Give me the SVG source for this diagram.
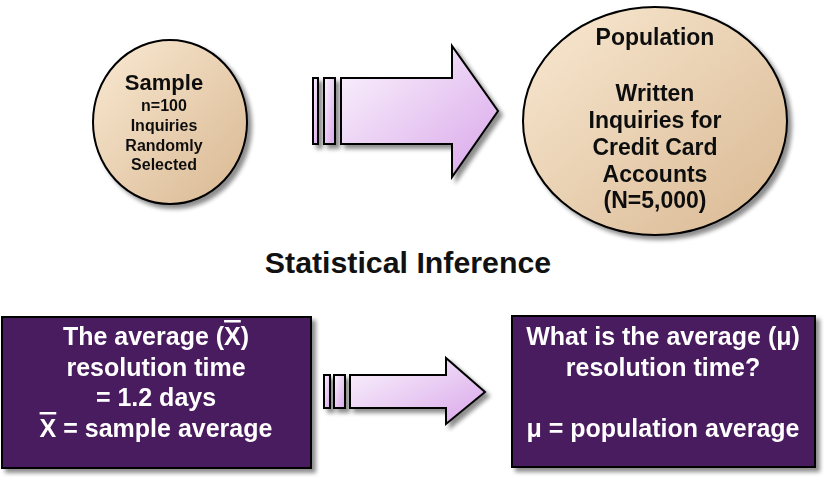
<svg xmlns="http://www.w3.org/2000/svg" width="827" height="477" viewBox="0 0 827 477">
<defs>
<linearGradient id="tan" x1="0" y1="0" x2="1" y2="1">
<stop offset="0" stop-color="#f9e9d2"/>
<stop offset="1" stop-color="#d9b892"/>
</linearGradient>
<linearGradient id="lav" x1="0" y1="0" x2="1" y2="1">
<stop offset="0" stop-color="#fbf6fd"/>
<stop offset="1" stop-color="#d9a6ea"/>
</linearGradient>
<filter id="sh" x="-10%" y="-10%" width="130%" height="130%">
<feGaussianBlur in="SourceAlpha" stdDeviation="2"/>
<feOffset dx="4" dy="4" result="b"/>
<feComponentTransfer><feFuncA type="linear" slope="0.45"/></feComponentTransfer>
<feMerge><feMergeNode/><feMergeNode in="SourceGraphic"/></feMerge>
</filter>
</defs>
<style>
.circ{fill:url(#tan);stroke:#000;stroke-width:2}
.arr{fill:url(#lav);stroke:#000;stroke-width:2;stroke-linejoin:miter}
.box{fill:#4a1a5e;stroke:#000;stroke-width:2}
.dk{font-family:"Liberation Sans",Arial,Helvetica,sans-serif;font-weight:bold;fill:#111;text-anchor:middle}
.wt{font-family:"Liberation Sans",Arial,Helvetica,sans-serif;font-weight:bold;fill:#fff;text-anchor:middle;font-size:25px}
.ov{text-decoration:overline}
</style>
<g id="sample" filter="url(#sh)">
<ellipse class="circ" cx="170" cy="122" rx="77" ry="82"/>
<text class="dk" x="164" y="90" font-size="22">Sample</text>
<text class="dk" font-size="16"><tspan x="164" y="111">n=100</tspan><tspan x="164" y="131">Inquiries</tspan><tspan x="164" y="151">Randomly</tspan><tspan x="164" y="170">Selected</tspan></text>
</g>
<g id="population" filter="url(#sh)">
<ellipse class="circ" cx="655" cy="121" rx="132" ry="114"/>
<text class="dk" font-size="23"><tspan x="655" y="45">Population</tspan><tspan x="655" y="101">Written</tspan><tspan x="655" y="128">Inquiries for</tspan><tspan x="655" y="155">Credit Card</tspan><tspan x="655" y="182">Accounts</tspan><tspan x="655" y="208">(N=5,000)</tspan></text>
</g>
<g id="connectors">
<g filter="url(#sh)">
<rect class="arr" x="313" y="78" width="5" height="66"/>
<rect class="arr" x="324" y="78" width="11" height="66"/>
<path class="arr" d="M341 78 H452 V46 L498 111 L452 177 V144 H341 Z"/>
</g>
<g filter="url(#sh)">
<rect class="arr" x="324" y="375" width="6" height="33"/>
<rect class="arr" x="334" y="375" width="11" height="33"/>
<path class="arr" d="M350 375 H446 V358 L485 392 L446 424 V408 H350 Z"/>
</g>
</g>
<g id="title">
<text x="408" y="273" font-family="'Liberation Sans',Arial,Helvetica,sans-serif" font-weight="bold" font-size="30.3" fill="#111" text-anchor="middle">Statistical Inference</text>
</g>
<g id="sampleBox" filter="url(#sh)">
<rect class="box" x="2" y="317" width="309" height="151"/>
<text class="wt"><tspan x="156" y="345">The average (<tspan class="ov">X</tspan>)</tspan><tspan x="156" y="376">resolution time</tspan><tspan x="156" y="406">= 1.2 days</tspan><tspan x="156" y="437"><tspan class="ov">X</tspan> = sample average</tspan></text>
</g>
<g id="populationBox" filter="url(#sh)">
<rect class="box" x="512" y="316" width="303" height="151"/>
<text class="wt"><tspan x="663" y="345">What is the average (μ)</tspan><tspan x="663" y="376">resolution time?</tspan><tspan x="663" y="437">μ = population average</tspan></text>
</g>
</svg>
